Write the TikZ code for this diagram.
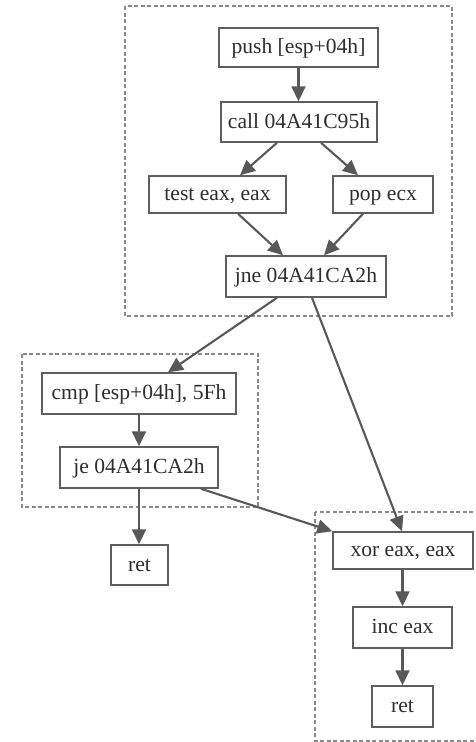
\documentclass[tikz,border=0pt]{standalone}
\usepackage{fontspec}
\setmainfont{Liberation Serif}
\usetikzlibrary{arrows.meta}
\definecolor{boxline}{HTML}{5E5E5E}
\definecolor{edgeline}{HTML}{585858}
\definecolor{clusterline}{HTML}{8A8A8A}
\definecolor{txt}{HTML}{2E2E2E}
\begin{document}
\begin{tikzpicture}[x=1pt,y=-1pt,
  insn/.style={draw=boxline,line width=1.5pt,fill=white,text=txt,
    font=\fontsize{21.6}{24}\selectfont,inner sep=0pt,anchor=center,
    text height=16pt,text depth=3.5pt},
  flow/.style={draw=edgeline,line width=2.1pt,
    -{Triangle[length=15pt,width=14pt]}},
  cluster/.style={draw=clusterline,line width=1.2pt,dash pattern=on 4pt off 2.5pt}]
\useasboundingbox (0,0) rectangle (476,742);
\begin{scope}
\clip (0,0) rectangle (476,742);
% basic-block groups
\draw[cluster] (125,6) rectangle (452,316);
\draw[cluster] (22,354) rectangle (258,507);
\draw[cluster] (315,512) rectangle (490,741);
\end{scope}

% instructions
\node[insn,minimum width=159pt,minimum height=39pt] (push) at (298.5,47.5) {push [esp+04h]};
\node[insn,minimum width=156pt,minimum height=40pt] (call) at (299,122) {call 04A41C95h};
\node[insn,minimum width=137pt,minimum height=37pt] (test) at (217.5,194.5) {test eax, eax};
\node[insn,minimum width=100pt,minimum height=37pt] (pop) at (383,194.5) {pop ecx};
\node[insn,minimum width=160pt,minimum height=41pt] (jne) at (306,276.5) {jne 04A41CA2h};
\node[insn,minimum width=194pt,minimum height=41pt] (cmp) at (139,393.5) {cmp [esp+04h], 5Fh};
\node[insn,minimum width=158pt,minimum height=41pt] (je) at (139,467.5) {je 04A41CA2h};
\node[insn,minimum width=57pt,minimum height=40pt] (retA) at (139.5,565) {ret};
\node[insn,minimum width=140pt,minimum height=37pt] (xor) at (403,550.5) {xor eax, eax};
\node[insn,minimum width=99pt,minimum height=41pt] (inc) at (402.5,627.5) {inc eax};
\node[insn,minimum width=61pt,minimum height=41pt] (retB) at (402.5,706.5) {ret};

% control flow
\draw[flow] (push.south) -- (push.south |- call.north);
\draw[flow] ([xshift=-22pt]call.south) -- ([xshift=22.5pt]test.north);
\draw[flow] ([xshift=22pt]call.south) -- ([xshift=-25pt]pop.north);
\draw[flow] ([xshift=20.5pt]test.south) -- ([xshift=-23pt]jne.north);
\draw[flow] ([xshift=-20pt]pop.south) -- ([xshift=18pt]jne.north);
\draw[flow] ([xshift=-29pt]jne.south) -- ([xshift=29pt]cmp.north);
\draw[flow] ([xshift=6pt]jne.south) -- ([xshift=-1pt]xor.north);
\draw[flow] (cmp.south) -- (je.north);
\draw[flow] (je.south) -- (je.south |- retA.north);
\draw[flow] ([xshift=62pt]je.south) -- (xor.north west);
\draw[flow] (xor.south -| inc.north) -- (inc.north);
\draw[flow] (inc.south) -- (retB.north);
\end{tikzpicture}
\end{document}
